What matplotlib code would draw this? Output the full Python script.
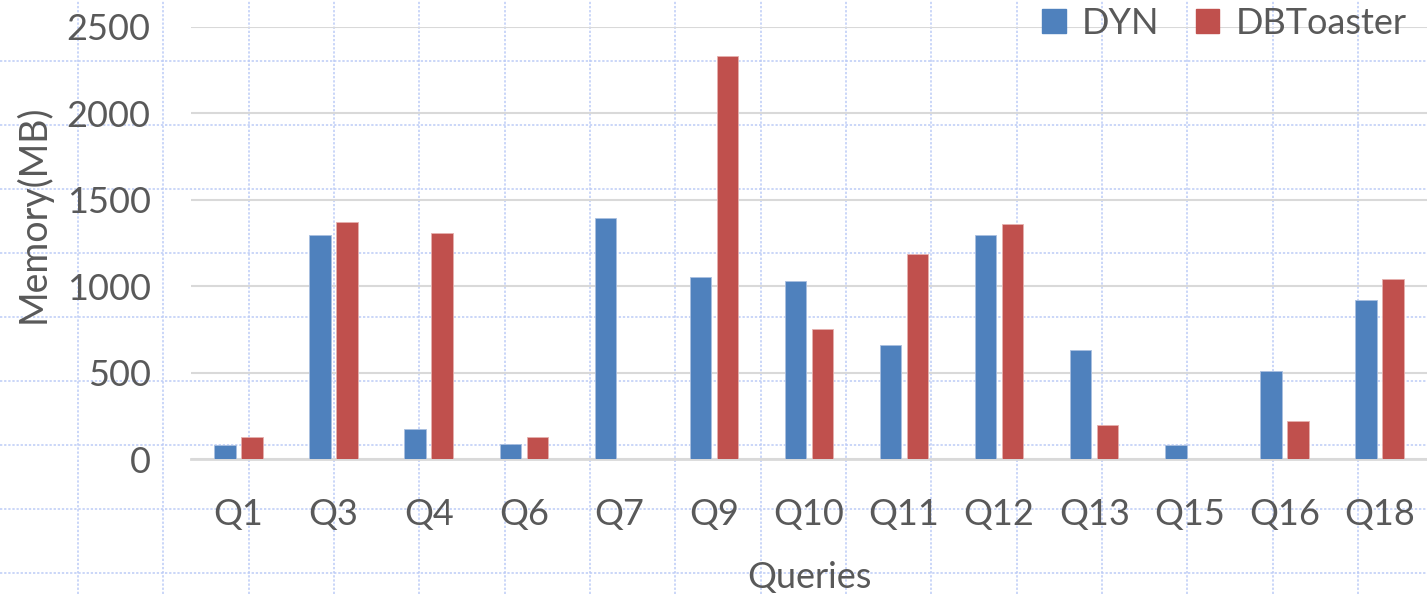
import numpy as np
import matplotlib
matplotlib.use("Agg")
import matplotlib.pyplot as plt
from matplotlib.lines import Line2D
from matplotlib.patches import Patch

# Memoria usada por consulta (MB)
queries = ["Q1", "Q3", "Q4", "Q6", "Q7", "Q9", "Q10", "Q11", "Q12", "Q13", "Q15", "Q16", "Q18"]
dyn = [82, 1298, 175, 88, 1395, 1054, 1029, 659, 1298, 630, 82, 513, 919]
dbtoaster = [128, 1374, 1308, 128, 0, 2332, 756, 1188, 1358, 198, 0, 224, 1041]
y_ticks = [0, 500, 1000, 1500, 2000, 2500]

W, H = 1427, 594
TEXT = "#595959"
BLUE = "#4f81bd"
RED = "#c0504d"
FS = 26

plt.rcParams["font.family"] = ["Lato", "DejaVu Sans"]

fig = plt.figure(figsize=(W / 100, H / 100), dpi=100)

# Rejilla de celdas de fondo (hoja de cálculo)
cell_color = "#bccbf6"
for px in np.arange(78, W, 85.33):
    fig.add_artist(Line2D([px / W, px / W], [0, 1], transform=fig.transFigure,
                          color=cell_color, lw=1.1, ls=(0, (1.5, 1.2)), zorder=0))
for py in np.arange(61, H, 64):
    fig.add_artist(Line2D([0, 1], [1 - py / H, 1 - py / H], transform=fig.transFigure,
                          color=cell_color, lw=1.1, ls=(0, (1.5, 1.2)), zorder=0))

ax = fig.add_axes([191 / W, 1 - 459.3 / H, (W - 191) / W, (459.3 - 27) / H])
ax.patch.set_alpha(0)

x = np.arange(len(queries))
w = 0.226
gap = 0.058
ax.bar(x - (w + gap) / 2, dyn, w, color=BLUE, edgecolor="#a9bfe0", linewidth=0.6, label="DYN", zorder=3)
ax.bar(x + (w + gap) / 2, dbtoaster, w, color=RED, edgecolor="#e6b0ae", linewidth=0.6, label="DBToaster", zorder=3)

ax.set_xlim(-0.5, len(queries) - 0.5)
ax.set_ylim(0, 2500)
ax.set_yticks(y_ticks)
ax.set_xticks(x)
ax.set_xticklabels(queries)
ax.yaxis.grid(True, color="#d9d9d9", lw=1.5, zorder=1)
ax.set_axisbelow(True)
for s in ax.spines.values():
    s.set_visible(False)
ax.axhline(0, color="#d9d9d9", lw=2, zorder=2, clip_on=False)

ax.tick_params(axis="both", length=0, colors=TEXT, labelsize=FS)
ax.tick_params(axis="y", pad=29)
ax.tick_params(axis="x", pad=28)

ax.set_ylabel("Memory(MB)", fontsize=FS + 1, color=TEXT)
ax.yaxis.set_label_coords(-0.1125, 0.567)
ax.set_xlabel("Queries", fontsize=FS, color=TEXT)
ax.xaxis.set_label_coords(0.5, -0.235)

handles = [Patch(color=BLUE, label="DYN"), Patch(color=RED, label="DBToaster")]
leg = ax.legend(handles=handles, loc="upper right", bbox_to_anchor=(0.995, 1.08), ncol=2,
                frameon=False, fontsize=FS, handlelength=0.65, handleheight=0.65,
                handletextpad=0.45, columnspacing=1.0, borderaxespad=0)
for t in leg.get_texts():
    t.set_color(TEXT)

fig.savefig("out.png", dpi=100, facecolor="white")
